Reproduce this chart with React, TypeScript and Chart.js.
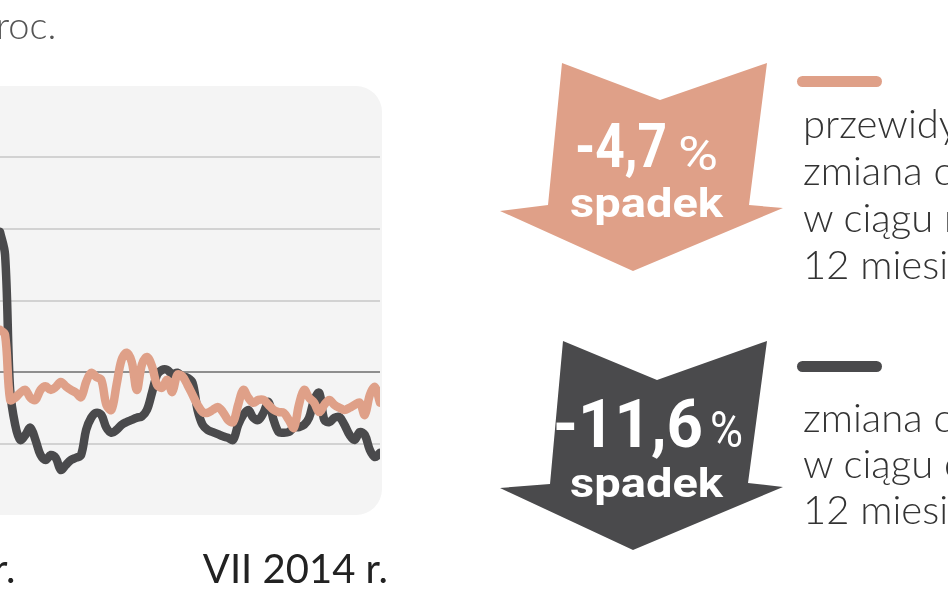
import React, { useEffect, useRef } from "react";
import { Chart, registerables } from "chart.js";

Chart.register(...registerables);

// Index values, equally spaced weekly samples
const currentChange = [
  119.6, 116.4, 97.5, 92.6, 90.5, 91.2, 92.2, 90.5, 88.4, 87.7,
  88.4, 88.0, 86.3, 87.0, 87.7, 88.0, 88.4, 91.9, 93.6, 94.3,
  94.0, 92.2, 91.5, 91.9, 92.6, 93.0, 93.3, 93.6, 93.8, 94.7,
  97.1, 99.6, 100.3, 100.3, 99.7, 99.9, 99.4, 99.2, 98.5, 94.7,
  92.6, 91.9, 91.6, 91.3, 91.0, 90.8, 90.5, 92.6, 94.0, 94.7,
  93.6, 93.3, 94.3, 95.8, 93.3, 91.6, 91.5, 91.6, 92.2, 92.3,
  92.6, 93.6, 96.1, 97.1, 93.3, 93.0, 93.6, 93.7, 92.6, 91.2,
  90.5, 91.6, 91.2, 89.1, 88.1, 88.7,
];

const expectedChange = [
  105.9, 105.2, 96.1, 96.4, 97.1, 97.5, 96.4, 96.1, 97.5, 98.0,
  97.5, 97.9, 98.6, 98.0, 97.5, 97.1, 96.5, 98.6, 99.9, 99.3,
  98.9, 95.4, 94.7, 98.2, 101.7, 102.7, 101.4, 97.5, 101.0, 102.1,
  100.8, 98.2, 97.8, 98.9, 97.2, 99.6, 99.4, 98.2, 96.8, 95.4,
  94.4, 94.3, 94.7, 95.1, 94.4, 93.3, 93.0, 95.4, 97.5, 96.4,
  95.7, 96.1, 96.1, 95.4, 94.7, 94.4, 94.3, 93.3, 92.2, 95.4,
  97.5, 96.4, 95.7, 94.4, 95.4, 96.1, 95.4, 95.0, 94.7, 95.0,
  95.4, 95.7, 94.0, 96.8, 97.9, 95.7,
];

const weeks = currentChange.map((_, i) => `t${i + 1}`);

const yMin = 80;
const yMax = 140;
const yStep = 10;
const baseLevel = 100;

const axisLabels = ["r.", "VII 2014 r."];
const unitLabel = "roc.";

const expectedText = ["przewidywana", "zmiana cen", "w ciągu najbliższych", "12 miesięcy"];
const currentText = ["zmiana cen", "w ciągu ostatnich", "12 miesięcy"];
const expectedValue = "-4,7";
const currentValue = "-11,6";
const dropWord = "spadek";

const SALMON = "#dfa088";
const DARK = "#4a4a4c";

function LineChart() {
  const ref = useRef<HTMLCanvasElement | null>(null);
  useEffect(() => {
    if (!ref.current) return;
    const chart = new Chart(ref.current, {
      type: "line",
      data: {
        labels: weeks,
        datasets: [
          {
            label: "przewidywana zmiana cen",
            data: expectedChange,
            borderColor: SALMON,
            borderWidth: 8.5,
            pointRadius: 0,
            tension: 0.35,
            borderCapStyle: "round",
            borderJoinStyle: "round",
            order: 0,
          },
          {
            label: "zmiana cen",
            data: currentChange,
            borderColor: DARK,
            borderWidth: 8.5,
            pointRadius: 0,
            tension: 0.35,
            borderCapStyle: "round",
            borderJoinStyle: "round",
            order: 1,
          },
        ],
      },
      options: {
        animation: false,
        responsive: false,
        maintainAspectRatio: false,
        layout: { padding: 0 },
        plugins: { legend: { display: false }, tooltip: { enabled: false } },
        scales: {
          x: { display: false, offset: false },
          y: {
            min: yMin,
            max: yMax,
            ticks: { display: false, stepSize: yStep, padding: 0 },
            border: { display: false },
            grid: {
              drawTicks: false,
              tickLength: 0,
              lineWidth: 2,
              color: (ctx: any) => {
                const v = ctx.tick ? ctx.tick.value : null;
                if (v === yMin || v === yMax) return "rgba(0,0,0,0)";
                if (v === baseLevel) return "#8e8e8e";
                return "#d2d2d2";
              },
            },
          },
        },
      },
    });
    return () => chart.destroy();
  }, []);
  return (
    <canvas
      ref={ref}
      width={380}
      height={429}
      style={{ position: "absolute", left: 0, top: 86, width: 380, height: 429 }}
    />
  );
}

export default function App() {
  const body = "Lato, 'Open Sans', sans-serif";
  const bold = "Roboto, 'DejaVu Sans', sans-serif";
  return (
    <div
      style={{
        position: "absolute",
        left: 0,
        top: 0,
        width: 948,
        height: 593,
        overflow: "hidden",
        background: "#ffffff",
      }}
    >
      <div
        style={{
          position: "absolute",
          left: -30,
          top: 86,
          width: 412,
          height: 429,
          borderRadius: 26,
          background: "#f4f4f4",
        }}
      />
      <LineChart />
      <svg
        width={948}
        height={593}
        style={{ position: "absolute", left: 0, top: 0, pointerEvents: "none" }}
      >
        <text x={-4} y={39} fontFamily={body} fontWeight={300} fontSize={38} fill="#555555">
          {unitLabel}
        </text>
        <text x={-7} y={583} fontFamily={body} fontWeight={400} fontSize={40} fill="#222222">
          {axisLabels[0]}
        </text>
        <text x={388} y={583} textAnchor="end" fontFamily={body} fontWeight={400} fontSize={40} fill="#222222">
          {axisLabels[1]}
        </text>

        <polygon
          points="562,63 660,100 767,63 749,205 783,208 633,271 500,211 548,205"
          fill={SALMON}
        />
        <text x={575} y={167} fontFamily={bold} fontWeight={700} fontSize={62} fill="#ffffff" textLength={92} lengthAdjust="spacingAndGlyphs">
          {expectedValue}
        </text>
        <text x={678} y={170} fontFamily={bold} fontWeight={400} fontSize={48} fill="#ffffff" textLength={40} lengthAdjust="spacingAndGlyphs">
          %
        </text>
        <text x={570} y={217} fontFamily={bold} fontWeight={700} fontSize={41} fill="#ffffff" textLength={153} lengthAdjust="spacingAndGlyphs">
          {dropWord}
        </text>

        <polygon
          points="563,341 657,380 767,341 748,483 783,487 633,550 500,488 550,484"
          fill={DARK}
        />
        <text x={553} y={447} fontFamily={bold} fontWeight={700} fontSize={66} fill="#ffffff" textLength={150} lengthAdjust="spacingAndGlyphs">
          {currentValue}
        </text>
        <text x={710} y={447} fontFamily={bold} fontWeight={400} fontSize={50} fill="#ffffff" textLength={33} lengthAdjust="spacingAndGlyphs">
          %
        </text>
        <text x={570} y={497} fontFamily={bold} fontWeight={700} fontSize={41} fill="#ffffff" textLength={153} lengthAdjust="spacingAndGlyphs">
          {dropWord}
        </text>

        <rect x={797} y={76} width={85} height={11} rx={5.5} fill={SALMON} />
        <rect x={797} y={361} width={85} height={11} rx={5.5} fill={DARK} />

        {expectedText.map((t, i) => (
          <text key={"e" + i} x={803} y={138 + i * 47} fontFamily={body} fontWeight={300} fontSize={40} fill="#333333">
            {t}
          </text>
        ))}
        {currentText.map((t, i) => (
          <text key={"c" + i} x={803} y={432 + i * 46} fontFamily={body} fontWeight={300} fontSize={40} fill="#333333">
            {t}
          </text>
        ))}
      </svg>
    </div>
  );
}
